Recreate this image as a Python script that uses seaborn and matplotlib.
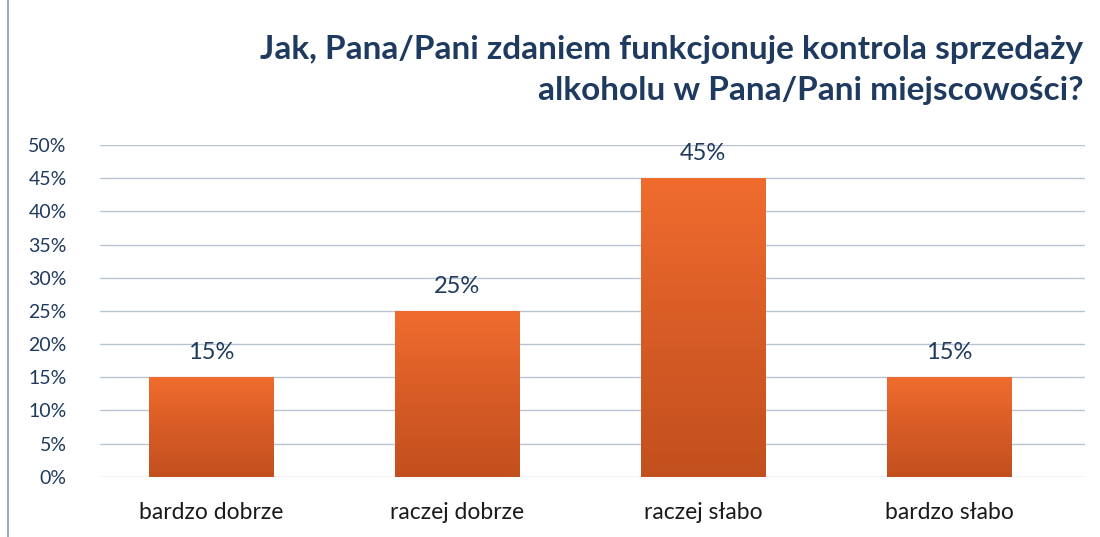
import numpy as np
import pandas as pd
import matplotlib
matplotlib.use("Agg")
import matplotlib.pyplot as plt
import seaborn as sns
from matplotlib.colors import LinearSegmentedColormap

categories = ["bardzo dobrze", "raczej dobrze", "raczej słabo", "bardzo słabo"]
values = [0.15, 0.25, 0.45, 0.15]
labels = ["15%", "25%", "45%", "15%"]
title = "Jak, Pana/Pani zdaniem funkcjonuje kontrola sprzedaży\nalkoholu w Pana/Pani miejscowości?"

sns.set_theme(style="white")
plt.rcParams["font.family"] = ["Lato", "DejaVu Sans"]

navy = "#1F3A5F"
fig = plt.figure(figsize=(11, 5.37), dpi=100)
ax = fig.add_axes([0.091, 0.112, 0.895, 0.618])

df = pd.DataFrame({"cat": categories, "val": values})
sns.barplot(data=df, x="cat", y="val", color="#E0622A", width=0.505, ax=ax, zorder=3)

cmap = LinearSegmentedColormap.from_list("g", ["#C2501E", "#D85C26", "#F06C2E"])
grad = np.linspace(0, 1, 256).reshape(-1, 1)
for p in ax.patches:
    x0, y0 = p.get_x(), p.get_y()
    w, h = p.get_width(), p.get_height()
    im = ax.imshow(grad, cmap=cmap, origin="lower", aspect="auto",
                   extent=[x0, x0 + w, y0, y0 + h], zorder=4)
    im.set_clip_path(p)
    p.set_edgecolor("#B04818")
    p.set_linewidth(0.6)

ax.set_ylim(0, 0.5)
ax.set_xlim(-0.45, 3.55)
ax.set_yticks(np.arange(0, 0.51, 0.05))
ax.set_yticklabels([f"{int(round(v*100))}%" for v in np.arange(0, 0.51, 0.05)],
                   fontsize=14, color=navy)
ax.set_xticks(range(len(categories)))
ax.set_xticklabels(categories, fontsize=16.5, color="#1a1a1a")
ax.tick_params(axis="x", pad=18, length=0)
ax.tick_params(axis="y", pad=24, length=0)
for lab in ax.get_yticklabels():
    lab.set_horizontalalignment("right")
ax.set_xlabel("")
ax.set_ylabel("")
ax.yaxis.grid(True, color="#B8C4D4", linewidth=1.0, zorder=0)
ax.set_axisbelow(True)
for s in ax.spines.values():
    s.set_visible(False)

for i, (v, t) in enumerate(zip(values, labels)):
    ax.annotate(t, (i, v), xytext=(0, 10), textcoords="offset points",
                ha="center", va="bottom", fontsize=17, color=navy)

fig.text(0.985, 0.935, title, ha="right", va="top", fontsize=24,
         fontweight="bold", color=navy, linespacing=1.5)

fig.add_artist(plt.Line2D([0.007, 0.007], [0.0, 1.0], color="#8A9BB0", linewidth=1.2))

fig.savefig("out.png", dpi=100, facecolor="white")
